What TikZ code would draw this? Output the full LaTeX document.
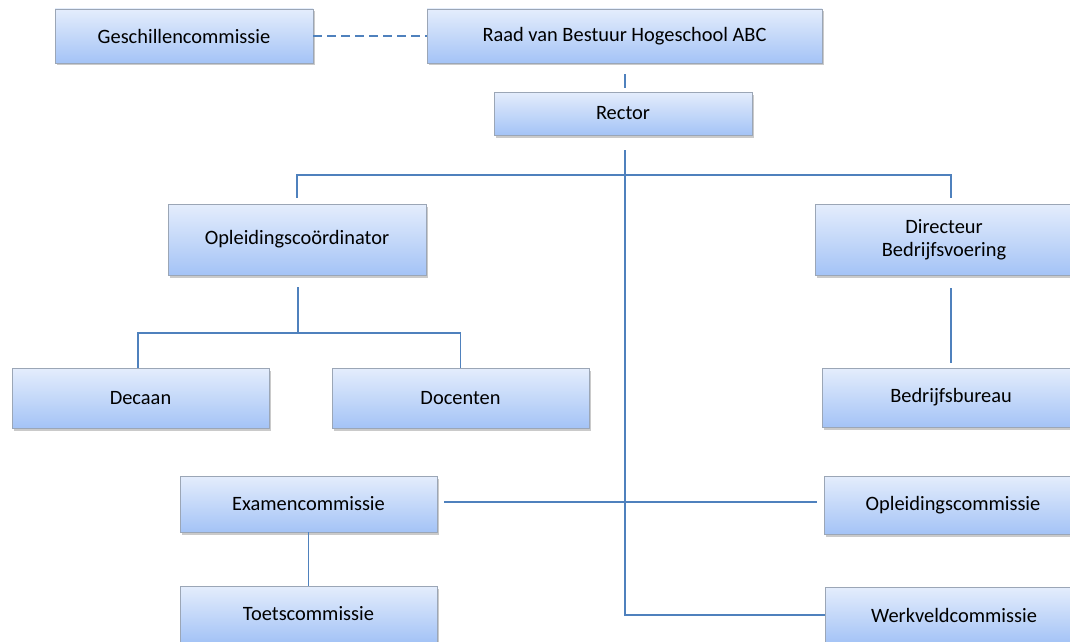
\documentclass[tikz,border=0pt]{standalone}
\usepackage{fontspec}
\setmainfont{Carlito}
\usetikzlibrary{shadows,calc}
\definecolor{linec}{HTML}{4F81BD}
\definecolor{boxtop}{HTML}{E4EDFC}
\definecolor{boxbot}{HTML}{A4C3F6}
\definecolor{boxborder}{HTML}{9BA6B6}
\tikzset{
  box/.style={draw=boxborder, line width=0.8pt, top color=boxtop, bottom color=boxbot,
    drop shadow={shadow xshift=1.5pt, shadow yshift=-2.5pt, opacity=0.35, fill=black!60},
    inner sep=0pt, align=center, font=\fontsize{20.4}{23.5}\selectfont},
  conn/.style={draw=linec, line width=1.3pt}
}
\begin{document}
\begin{tikzpicture}[x=1pt,y=-1pt]
\useasboundingbox (0,0) rectangle (1070,642);
\node[box, minimum width=258pt, minimum height=54pt] (gesch) at (184,36) {Geschillencommissie};
\node[box, minimum width=395pt, minimum height=54pt] (raad) at (624.5,36) {Raad van Bestuur Hogeschool ABC};
\node[box, minimum width=258pt, minimum height=43pt] (rector) at (623,113.5) {Rector};
\node[box, minimum width=258pt, minimum height=71pt] (opl) at (297,239.5) {Opleidingscoördinator};
\node[box, minimum width=258pt, minimum height=71pt] (dir) at (944,239.5) {Directeur\\Bedrijfsvoering};
\node[box, minimum width=257pt, minimum height=60pt] (decaan) at (140.5,398) {Decaan};
\node[box, minimum width=257pt, minimum height=60pt] (docenten) at (460.5,398) {Docenten};
\node[box, minimum width=258pt, minimum height=59pt] (bb) at (951,397.5) {Bedrijfsbureau};
\node[box, minimum width=257pt, minimum height=56pt] (examen) at (308.5,504) {Examencommissie};
\node[box, minimum width=258pt, minimum height=58pt] (oplcom) at (953,505) {Opleidingscommissie};
\node[box, minimum width=257pt, minimum height=56pt] (toets) at (308.5,614) {Toetscommissie};
\node[box, minimum width=258pt, minimum height=56pt] (werk) at (954,615) {Werkveldcommissie};
\coordinate (bus1) at (625,175);
\coordinate (bus2) at (298,333);
% connectors
\draw[conn, dashed, dash pattern=on 9pt off 5pt] (gesch.east) -- (raad.west);
\draw[conn, shorten <=11pt, shorten >=4pt] ([xshift=0.5pt]raad.south) -- ([xshift=0.5pt]raad.south |- rector.north);
\draw[conn, shorten <=15pt] ([xshift=2pt]rector.south) |- (werk.west);
\draw[conn] ([yshift=6pt]opl.north) |- (bus1) -| ([xshift=7pt,yshift=6pt]dir.north);
\draw[conn] ([yshift=-12pt,xshift=1pt]opl.south) -- (bus2);
\draw[conn] ([xshift=-2.5pt]decaan.north) |- (bus2) -| (docenten.north);
\draw[conn, shorten <=13pt, shorten >=5pt] ([xshift=7pt]dir.south) -- (bb.north);
\draw[conn, shorten <=7pt, shorten >=7pt] ([yshift=2pt]examen.east) -- ([yshift=2pt]examen.east -| oplcom.west);
\draw[conn] (examen.south) -- (toets.north);
\end{tikzpicture}
\end{document}
